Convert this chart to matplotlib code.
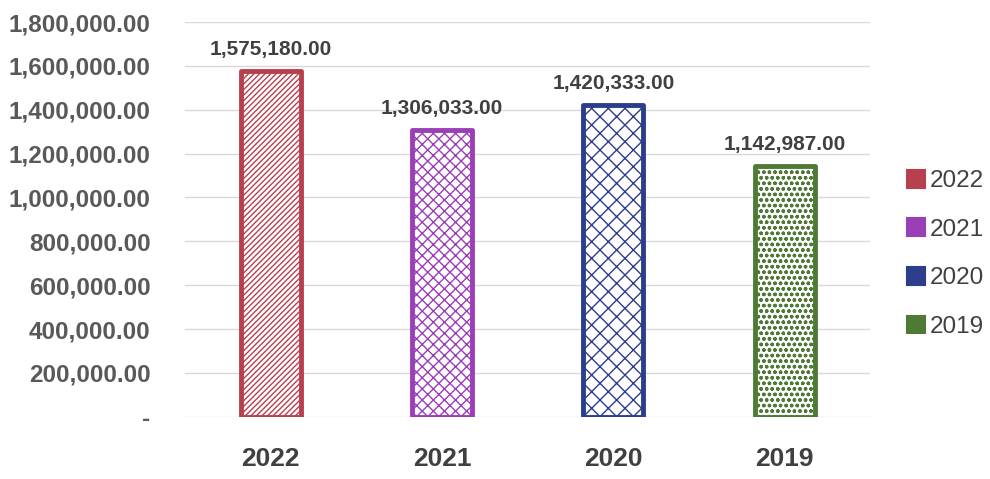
import matplotlib
matplotlib.use("Agg")
import matplotlib.pyplot as plt
from matplotlib.ticker import FuncFormatter
from matplotlib.patches import Patch

categories = ["2022", "2021", "2020", "2019"]
values = [1575180.00, 1306033.00, 1420333.00, 1142987.00]
yticks = [0, 200000, 400000, 600000, 800000, 1000000, 1200000, 1400000, 1600000, 1800000]

colors = ["#b8404e", "#9a3fb8", "#2c3d8c", "#4f7a36"]
hatches = ["//////", "xxx", "xx", "ooo"]

plt.rcParams['font.family'] = ['Liberation Sans', 'DejaVu Sans']
plt.rcParams['hatch.linewidth'] = 1.0

fig = plt.figure(figsize=(9.9, 4.79), dpi=100)
ax = fig.add_axes([0.187, 0.13, 0.692, 0.824])

x = list(range(len(categories)))
for i, (c, v) in enumerate(zip(categories, values)):
    ax.bar(i, v, width=0.35, facecolor="white", edgecolor=colors[i],
           hatch=hatches[i], linewidth=3.5, joinstyle="round", label=c, zorder=3)
    ax.annotate(f"{v:,.2f}", xy=(i, v), xytext=(0, 9), textcoords="offset points",
                ha="center", va="bottom", fontsize=15, fontweight="bold", color="#404040")

ax.set_xlim(-0.5, 3.5)
ax.set_ylim(0, 1800000)
ax.set_yticks(yticks)
ax.yaxis.set_major_formatter(FuncFormatter(lambda v, p: "-" if v == 0 else f"{v:,.2f}"))
ax.set_xticks(x)
ax.set_xticklabels(categories)
ax.grid(axis="y", color="#d9d9d9", linewidth=1, zorder=0)
for s in ax.spines.values():
    s.set_visible(False)
ax.tick_params(axis="both", length=0)
ax.tick_params(axis="y", labelsize=17.5, labelcolor="#595959", pad=25)
ax.tick_params(axis="x", labelsize=19, labelcolor="#404040", pad=22)
for t in ax.get_yticklabels() + ax.get_xticklabels():
    t.set_fontweight("bold")

proxies = []
for c in colors:
    proxies.append(Patch(facecolor=c, edgecolor=c, linewidth=1.5, joinstyle="round"))

plt.rcParams['hatch.color'] = "white"
leg = fig.legend(handles=proxies, labels=categories, loc="center left",
                 bbox_to_anchor=(0.916, 0.470), frameon=False, borderpad=0,
                 borderaxespad=0, prop={"size": 17.5},
                 labelspacing=1.08, handlelength=0.75, handleheight=0.75,
                 handletextpad=0.2, labelcolor="#404040")

fig.savefig("out.png", dpi=100)
